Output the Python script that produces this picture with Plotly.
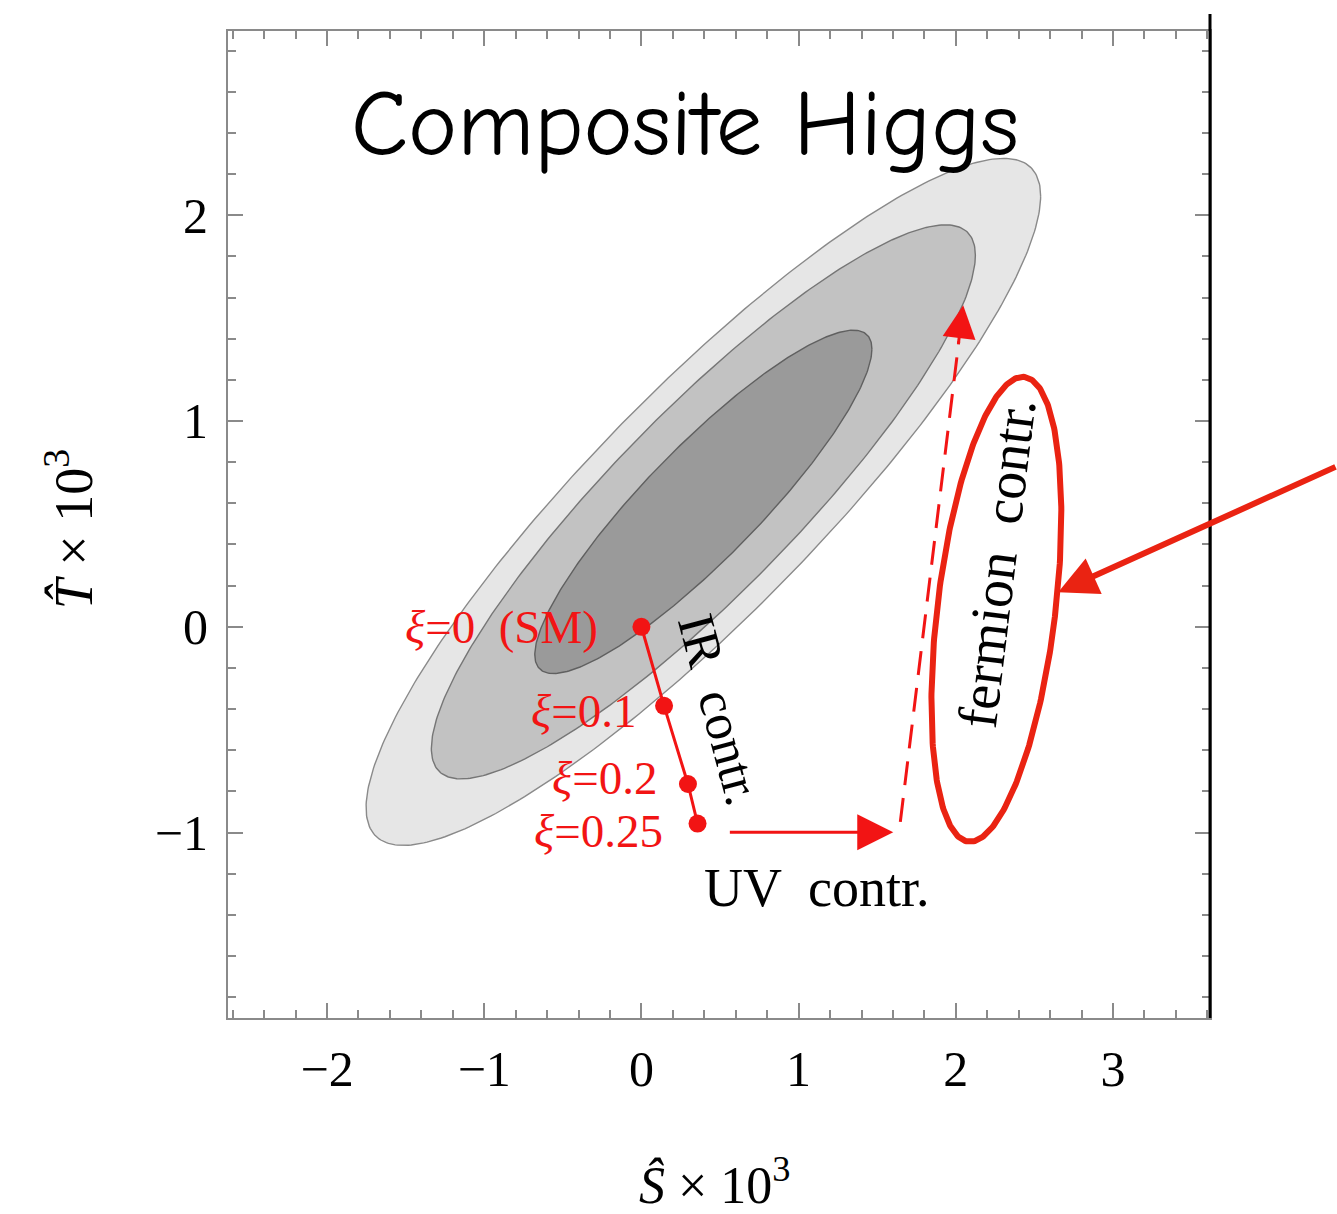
import numpy as np
import plotly.graph_objects as go

# ---------------- data ----------------
# fit ellipse parameters (S-hat, T-hat x 1e3)
fit_center = [0.394, 0.607]
fit_sigma = [0.707, 0.550]
fit_rho = 0.89
chi2_levels = [9.21, 5.99, 2.30]          # 99%, 95%, 68% CL (2 dof)
fill_colors = ["#e6e6e6", "#c2c2c2", "#9a9a9a"]
edge_colors = ["#8a8a8a", "#767676", "#606060"]

# composite-Higgs IR contribution points
xi_labels = ["<i>ξ</i>=0  (SM)", "<i>ξ</i>=0.1", "<i>ξ</i>=0.2", "<i>ξ</i>=0.25"]
xi_S = [0.0, 0.144, 0.296, 0.357]
xi_T = [0.0, -0.384, -0.764, -0.956]
xi_label_S = [-0.265, -0.02, 0.11, 0.15]
xi_label_T = [0.0, -0.41, -0.735, -0.99]

# UV contribution arrow (start, end)
uv_S = [0.553, 1.602]
uv_T = [-0.998, -0.998]
# fermion contribution dashed arrow (start, end)
ferm_S = [1.647, 2.047]
ferm_T = [-0.948, 1.562]

# hand-drawn highlight ellipse (data centre)
hl_center = [2.258, 0.085]

xrange_ = [-2.63, 3.617]
yrange_ = [-1.901, 2.895]
xticks = [-2, -1, 0, 1, 2, 3]
yticks = [-1, 0, 1, 2]

# ---------------- figure ----------------
W, H = 1337, 1214
ml, mr, mt, mb = 228, 127, 31, 196
pw, ph = W - ml - mr, H - mt - mb
sx = pw / (xrange_[1] - xrange_[0])   # px per unit
sy = ph / (yrange_[1] - yrange_[0])

fig = go.Figure()

# confidence ellipses
Sig = np.array([[fit_sigma[0] ** 2, fit_rho * fit_sigma[0] * fit_sigma[1]],
                [fit_rho * fit_sigma[0] * fit_sigma[1], fit_sigma[1] ** 2]])
L = np.linalg.cholesky(Sig)
t = np.linspace(0, 2 * np.pi, 361)
circ = np.vstack([np.cos(t), np.sin(t)])
for k, fc, ec in zip(chi2_levels, fill_colors, edge_colors):
    pts = L @ circ * np.sqrt(k)
    fig.add_trace(go.Scatter(x=fit_center[0] + pts[0], y=fit_center[1] + pts[1],
                             mode="lines", fill="toself", fillcolor=fc,
                             line=dict(color=ec, width=1.4), hoverinfo="skip",
                             showlegend=False))

RED = "#f21414"
ORANGE_RED = "#ea2312"

# IR line with points
fig.add_trace(go.Scatter(x=xi_S, y=xi_T, mode="lines+markers",
                         line=dict(color=RED, width=3),
                         marker=dict(color=RED, size=18),
                         showlegend=False, hoverinfo="skip"))

# fermion dashed line
fig.add_trace(go.Scatter(x=[ferm_S[0], ferm_S[0] + (ferm_S[1] - ferm_S[0]) * 0.93],
                         y=[ferm_T[0], ferm_T[0] + (ferm_T[1] - ferm_T[0]) * 0.93],
                         mode="lines", line=dict(color=RED, width=3, dash="24px,13px"),
                         showlegend=False, hoverinfo="skip"))

# highlight ellipse (pixel geometry converted to data units)
a_px, b_px, tilt = 234.0, 59.0, np.deg2rad(6.9)
u = np.cos(t) * b_px
v = np.sin(t) * a_px
dx = u * np.cos(tilt) + v * np.sin(tilt)
dy = -u * np.sin(tilt) + v * np.cos(tilt)
fig.add_trace(go.Scatter(x=hl_center[0] + dx / sx, y=hl_center[1] + dy / sy,
                         mode="lines", line=dict(color=ORANGE_RED, width=6),
                         showlegend=False, hoverinfo="skip"))

serif = "Liberation Serif, Times New Roman, serif"
ann = []
for lab, lx, ly in zip(xi_labels, xi_label_S, xi_label_T):
    ann.append(dict(x=lx, y=ly, xref="x", yref="y", text=lab, showarrow=False,
                    xanchor="right", yanchor="middle",
                    font=dict(family=serif, size=47, color=RED)))

# UV arrow
ann.append(dict(x=uv_S[1], y=uv_T[1], ax=uv_S[0], ay=uv_T[0], xref="x", yref="y",
                axref="x", ayref="y", text="", showarrow=True, arrowhead=2,
                arrowsize=2.4, arrowwidth=3, arrowcolor=RED))
# fermion arrowhead
ann.append(dict(x=ferm_S[1], y=ferm_T[1], ax=-5, ay=40, xref="x", yref="y",
                text="", showarrow=True, arrowhead=2, arrowsize=2.2,
                arrowwidth=3, arrowcolor=RED))
# big pointer arrow
ann.append(dict(x=2.651, y=0.168, ax=282, ay=-126, xref="x", yref="y",
                text="", showarrow=True, arrowhead=2, arrowsize=1.3,
                arrowwidth=6, arrowcolor=ORANGE_RED))

# texts
ann.append(dict(x=0.28, y=2.44, xref="x", yref="y", text="Composite Higgs",
                showarrow=False, font=dict(family="Comic Sans MS, Comic Neue, Noto Sans, sans-serif",
                                           size=93, color="black")))
ann.append(dict(x=0.50, y=-0.40, xref="x", yref="y", text="IR  contr.", showarrow=False,
                textangle=75, font=dict(family=serif, size=52, color="black")))
ann.append(dict(x=1.12, y=-1.27, xref="x", yref="y", text="UV  contr.", showarrow=False,
                font=dict(family=serif, size=54, color="black")))
ann.append(dict(x=2.26, y=0.31, xref="x", yref="y", text="fermion  contr.", showarrow=False,
                textangle=-83, font=dict(family=serif, size=56, color="black")))

# axis titles
ann.append(dict(x=0.496, y=-0.166, xref="paper", yref="paper", xanchor="center",
                yanchor="middle", text="<i>Ŝ</i> × 10<sup>3</sup>", showarrow=False,
                font=dict(family=serif, size=52, color="black")))
ann.append(dict(x=-0.161, y=0.495, xref="paper", yref="paper", xanchor="center",
                yanchor="middle", text="<i>T̂</i> × 10<sup>3</sup>", showarrow=False,
                textangle=-90, font=dict(family=serif, size=54, color="black")))

axis_common = dict(showgrid=False, zeroline=False, showline=True, linecolor="#8a8a8a",
                   linewidth=2, mirror="ticks", ticks="inside", ticklen=15, tickwidth=2,
                   tickcolor="#8a8a8a",
                   tickfont=dict(family=serif, size=50, color="black"),
                   minor=dict(ticks="inside", ticklen=8, tickwidth=2, tickcolor="#8a8a8a",
                              dtick=0.2, showgrid=False))

fig.update_layout(
    width=W, height=H, margin=dict(l=ml, r=mr, t=mt, b=mb),
    paper_bgcolor="white", plot_bgcolor="white",
    xaxis=dict(range=xrange_, tickvals=xticks, ticklabelstandoff=6, **axis_common),
    yaxis=dict(range=yrange_, tickvals=yticks, ticklabelstandoff=8, **axis_common),
    annotations=ann,
    shapes=[dict(type="line", xref="paper", yref="paper", x0=1, x1=1, y0=0,
                 y1=1 + 17 / ph, line=dict(color="black", width=3))],
)

fig.write_html("out.html")
